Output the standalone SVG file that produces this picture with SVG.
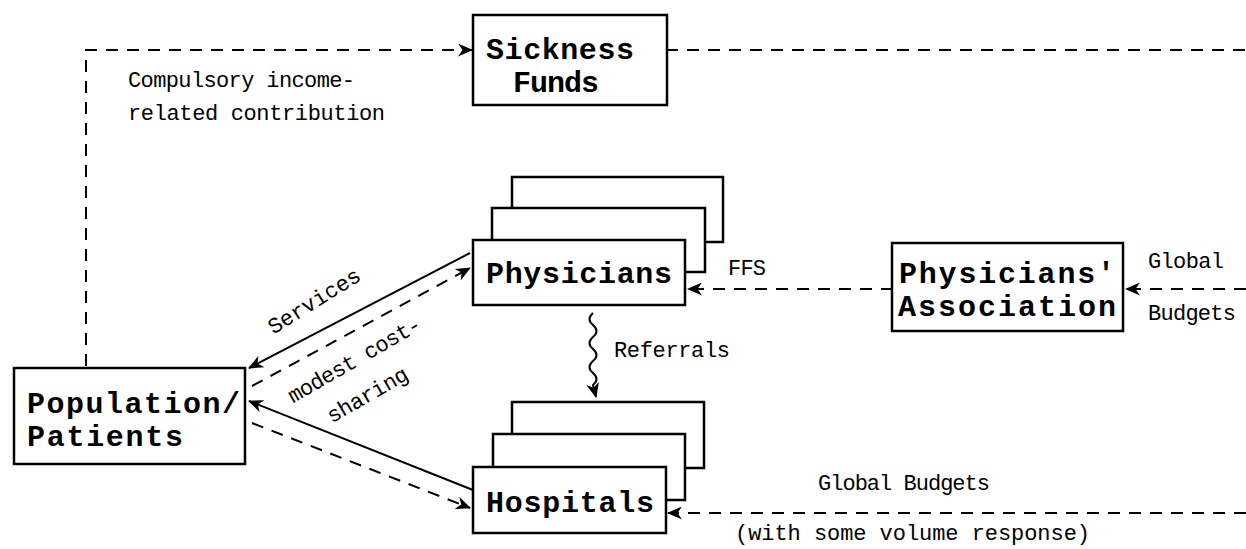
<svg xmlns="http://www.w3.org/2000/svg" width="1246" height="549" viewBox="0 0 1246 549">
<defs>
<style>
.box{fill:#fff;stroke:#000;stroke-width:2.5}
.node{font-family:"Liberation Mono",monospace;font-weight:bold;font-size:30px;fill:#000}
.lbl{font-family:"Liberation Mono",monospace;font-size:22px;fill:#000}
.c{fill:none;stroke:#000;stroke-width:2}
.d{stroke-dasharray:12 9}
</style>
<marker id="ah" viewBox="0 0 15 13" refX="14" refY="6.5" markerWidth="15" markerHeight="13" markerUnits="userSpaceOnUse" orient="auto">
<path d="M0,0 L15,6.5 L0,13 L4.5,6.5 z" fill="#000"/>
</marker>
</defs>
<rect width="1246" height="549" fill="#fff"/>
<g id="connectors">
<path class="c d" d="M86,366 V50 H472" marker-end="url(#ah)"/>
<path class="c d" d="M666,50 H1246"/>
<path class="c" d="M470,253 L249,368" marker-end="url(#ah)"/>
<path class="c d" d="M252,386 L470,268" marker-end="url(#ah)"/>
<path class="c" d="M473,490 L249,401" marker-end="url(#ah)"/>
<path class="c d" d="M252,423 L470,508" marker-end="url(#ah)"/>
<path class="c" d="M593,313 q-7,6 0,12 q7,6 0,12 q-7,6 0,12 q7,6 0,12 q-7,6 0,12 q7,6 0,12 L596,397" marker-end="url(#ah)"/>
<path class="c d" d="M893,289 H688" marker-end="url(#ah)"/>
<path class="c d" d="M1246,289 H1126" marker-end="url(#ah)"/>
<path class="c d" d="M1246,513 H668" marker-end="url(#ah)"/>
</g>
<g id="sickness-funds">
<rect class="box" x="473" y="15" width="194" height="90"/>
<text class="node" x="560" y="59" text-anchor="middle" textLength="148">Sickness</text>
<text class="node" x="556" y="92" text-anchor="middle" textLength="86">Funds</text>
</g>
<g id="physicians">
<rect class="box" x="512" y="177" width="211" height="65"/>
<rect class="box" x="492" y="208" width="213" height="64"/>
<rect class="box" x="473" y="240" width="212" height="65"/>
<text class="node" x="579" y="283" text-anchor="middle" textLength="186">Physicians</text>
</g>
<g id="physicians-association">
<rect class="box" x="892" y="243" width="231" height="88"/>
<text class="node" x="1007" y="283" text-anchor="middle" textLength="216">Physicians'</text>
<text class="node" x="1007" y="316" text-anchor="middle" textLength="218">Association</text>
</g>
<g id="population">
<rect class="box" x="14" y="368" width="231" height="96"/>
<text class="node" x="27" y="413" textLength="213">Population/</text>
<text class="node" x="27" y="446" textLength="156">Patients</text>
</g>
<g id="hospitals">
<rect class="box" x="512" y="402" width="192" height="66"/>
<rect class="box" x="493" y="434" width="192" height="66"/>
<rect class="box" x="473" y="467" width="193" height="66"/>
<text class="node" x="570" y="512" text-anchor="middle" textLength="168">Hospitals</text>
</g>
<g id="labels">
<text class="lbl" x="128" y="87" textLength="227">Compulsory income-</text>
<text class="lbl" x="128" y="120" textLength="257">related contribution</text>
<text class="lbl" x="614" y="357" textLength="116">Referrals</text>
<text class="lbl" x="728" y="275" textLength="38">FFS</text>
<text class="lbl" x="1148" y="268" textLength="76">Global</text>
<text class="lbl" x="1148" y="320" textLength="88">Budgets</text>
<text class="lbl" x="818" y="490" textLength="172">Global Budgets</text>
<text class="lbl" x="735" y="540" textLength="355">(with some volume response)</text>
<text class="lbl" transform="translate(318,307) rotate(-32)" text-anchor="middle" textLength="105">Services</text>
<text class="lbl" transform="translate(358,366) rotate(-30)" text-anchor="middle" textLength="150">modest cost-</text>
<text class="lbl" transform="translate(371,401) rotate(-30)" text-anchor="middle" textLength="90">sharing</text>
</g>
</svg>
